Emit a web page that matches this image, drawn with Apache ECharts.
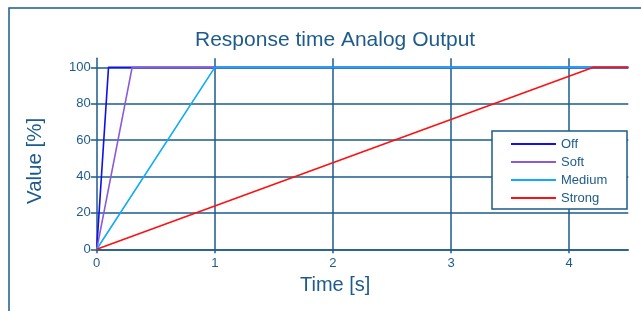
<!DOCTYPE html>
<html>
<head>
<meta charset="utf-8">
<script src="https://cdn.jsdelivr.net/npm/echarts@6/dist/echarts.min.js"></script>
<style>html,body{margin:0;padding:0;background:#fff;}#c{width:641px;height:311px;}</style>
</head>
<body>
<div id="c"></div>
<script>
var seriesNames = ['Off', 'Soft', 'Medium', 'Strong'];
var offTime = [0, 0.1, 4.5];
var offValue = [0, 100, 100];
var softTime = [0, 0.3, 4.5];
var softValue = [0, 100, 100];
var mediumTime = [0, 1.0, 4.5];
var mediumValue = [0, 100, 100];
var strongTime = [0, 4.2, 4.5];
var strongValue = [0, 100, 100];
var xTicks = [0, 1, 2, 3, 4];
var yTicks = [0, 20, 40, 60, 80, 100];

var C = '#1d5b8c';
var colors = ['#1010e8', '#8a5ad8', '#10aaf8', '#ff1010'];
function pairs(t, v) { return t.map(function (x, i) { return [x, v[i]]; }); }
var datas = [pairs(offTime, offValue), pairs(softTime, softValue), pairs(mediumTime, mediumValue), pairs(strongTime, strongValue)];

var chart = echarts.init(document.getElementById('c'), null, {renderer: 'canvas'});
var F = 'Liberation Sans, Arial, sans-serif';
chart.setOption({
  animation: false,
  title: {
    text: 'Response time Analog Output',
    left: 190, top: 25,
    textStyle: {color: C, fontSize: 21, fontWeight: 'normal', fontFamily: F}
  },
  grid: {left: 96.7, right: 12.7, top: 58.3, bottom: 61.7},
  xAxis: {
    type: 'value', min: 0, max: 4.5, interval: 1,
    axisLine: {show: true, onZero: false, lineStyle: {color: C, width: 1.5}},
    axisTick: {show: true, length: 4, lineStyle: {color: C, width: 1.5}},
    axisLabel: {color: C, fontSize: 13, fontFamily: F, margin: 8, showMaxLabel: false,
      formatter: function (v) { return xTicks.indexOf(v) >= 0 ? String(v) : ''; }},
    splitLine: {show: true, showMinLine: false, showMaxLine: false, lineStyle: {color: C, width: 1.5}}
  },
  yAxis: {
    type: 'value', min: 0, max: 105, interval: 20,
    axisLine: {show: true, lineStyle: {color: C, width: 1.5}},
    axisTick: {show: true, length: 6, lineStyle: {color: C, width: 1.5}},
    axisLabel: {color: C, fontSize: 13, fontFamily: F, margin: 6, showMaxLabel: false,
      formatter: function (v) { return yTicks.indexOf(v) >= 0 ? String(v) : ''; }},
    splitLine: {show: true, showMaxLine: false, lineStyle: {color: C, width: 1.5}}
  },
  legend: {
    orient: 'vertical', left: 511, top: 137,
    padding: 0, itemGap: 4, itemWidth: 45, itemHeight: 2, icon: 'rect',
    textStyle: {color: C, fontSize: 13, fontFamily: F, lineHeight: 14},
    data: seriesNames, z: 10
  },
  graphic: [
    {type: 'rect', z: -1, silent: true,
     shape: {x: 9, y: 8, width: 700, height: 400},
     style: {fill: 'none', stroke: C, lineWidth: 1.5}},
    {type: 'rect', z: 5, silent: true,
     shape: {x: 492, y: 131, width: 135, height: 78},
     style: {fill: '#fff', stroke: C, lineWidth: 1.5}},
    {type: 'text', x: 300, y: 275, silent: true,
     style: {text: 'Time [s]', fill: C, fontSize: 20, fontFamily: F}},
    {type: 'text', x: 25, y: 204, rotation: Math.PI / 2, silent: true,
     style: {text: 'Value [%]', fill: C, fontSize: 20.5, fontFamily: F, textVerticalAlign: 'top'}}
  ],
  series: seriesNames.map(function (n, i) {
    return {name: n, type: 'line', data: datas[i], showSymbol: false, symbol: 'none',
      color: colors[i], lineStyle: {color: colors[i], width: 1.6}, clip: false};
  })
});
</script>
</body>
</html>
